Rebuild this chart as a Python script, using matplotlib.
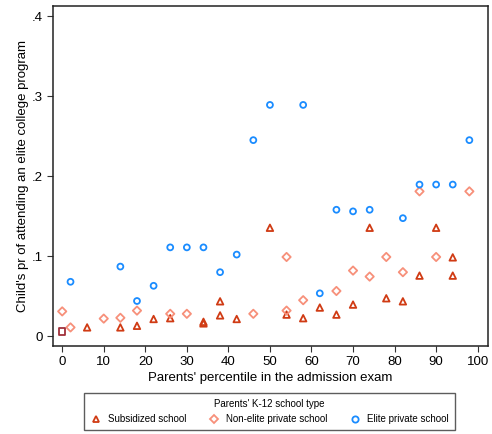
import matplotlib
matplotlib.use("Agg")
import matplotlib.pyplot as plt
from matplotlib.lines import Line2D

plt.rcParams["font.family"] = ["Liberation Sans", "DejaVu Sans"]

# Subsidized school
sub_x = [6, 14, 18, 22, 26, 34, 34, 38, 38, 42, 50, 54, 58, 62, 66, 70, 74, 78, 82, 86, 90, 94, 94]
sub_y = [0.011, 0.011, 0.013, 0.0215, 0.0225, 0.016, 0.018, 0.0436, 0.026, 0.0215, 0.1355, 0.027,
         0.0225, 0.0358, 0.027, 0.0395, 0.1355, 0.0474, 0.0436, 0.0757, 0.1355, 0.0985, 0.0757]

# Non-elite private school
non_x = [0, 2, 10, 14, 18, 26, 30, 46, 54, 54, 58, 66, 70, 74, 78, 82, 86, 90, 98]
non_y = [0.031, 0.011, 0.022, 0.023, 0.032, 0.028, 0.028, 0.028, 0.032, 0.099, 0.045, 0.0565,
         0.082, 0.0745, 0.099, 0.080, 0.181, 0.099, 0.181]

# Elite private school
eli_x = [2, 14, 18, 22, 26, 30, 34, 38, 42, 46, 50, 58, 62, 66, 70, 74, 82, 86, 90, 94, 98]
eli_y = [0.068, 0.087, 0.044, 0.063, 0.111, 0.111, 0.111, 0.080, 0.102, 0.245, 0.289, 0.289,
         0.0536, 0.158, 0.156, 0.158, 0.1475, 0.1895, 0.1895, 0.1895, 0.245]

# bottom percentile point shown with a square
sq_x = [0]
sq_y = [0.006]

c_sub = "#D03B14"
c_non = "#F7907A"
c_eli = "#1A8CFF"
c_sq = "#A0303A"

fig = plt.figure(figsize=(4.92, 4.34), dpi=100)
ax = fig.add_axes([0.107, 0.203, 0.885, 0.783])

ax.scatter(sub_x, sub_y, marker="^", s=22, facecolors="none", edgecolors=c_sub, linewidths=1.3)
ax.scatter(non_x, non_y, marker="D", s=18, facecolors="none", edgecolors=c_non, linewidths=1.3)
ax.scatter(eli_x, eli_y, marker="o", s=18, facecolors="none", edgecolors=c_eli, linewidths=1.3)
ax.scatter(sq_x, sq_y, marker="s", s=20, facecolors="none", edgecolors=c_sq, linewidths=1.3)

ax.set_xlim(-2.3, 102.5)
ax.set_ylim(-0.0121, 0.4125)
ax.set_xticks(range(0, 101, 10))
ax.set_yticks([0, 0.1, 0.2, 0.3, 0.4])
ax.set_yticklabels(["0", ".1", ".2", ".3", ".4"])
ax.tick_params(labelsize=9.5, length=4, width=0.8, color="#333333", pad=3)
for s in ax.spines.values():
    s.set_linewidth(1.1)
    s.set_color("#222222")

ax.set_xlabel("Parents' percentile in the admission exam", fontsize=9.5, labelpad=3)
ax.set_ylabel("Child's pr of attending an elite college program", fontsize=9.5, labelpad=2)

handles = [
    Line2D([], [], ls="none", marker="^", ms=5, mfc="none", mec=c_sub, mew=1.3),
    Line2D([], [], ls="none", marker="D", ms=4.5, mfc="none", mec=c_non, mew=1.3),
    Line2D([], [], ls="none", marker="o", ms=4.5, mfc="none", mec=c_eli, mew=1.3),
]
labels = ["Subsidized school", "Non-elite private school", "Elite private school"]
leg = fig.legend(handles, labels, title="Parents' K-12 school type", ncol=3,
                 loc="center", bbox_to_anchor=(0.5475, 0.0514), fontsize=7, title_fontsize=7,
                 frameon=True, fancybox=False, edgecolor="#333333", columnspacing=2.3,
                 handletextpad=0.6, borderpad=0.6, handlelength=1.2)
leg.get_frame().set_linewidth(1.0)

fig.savefig("out.png", dpi=100)
